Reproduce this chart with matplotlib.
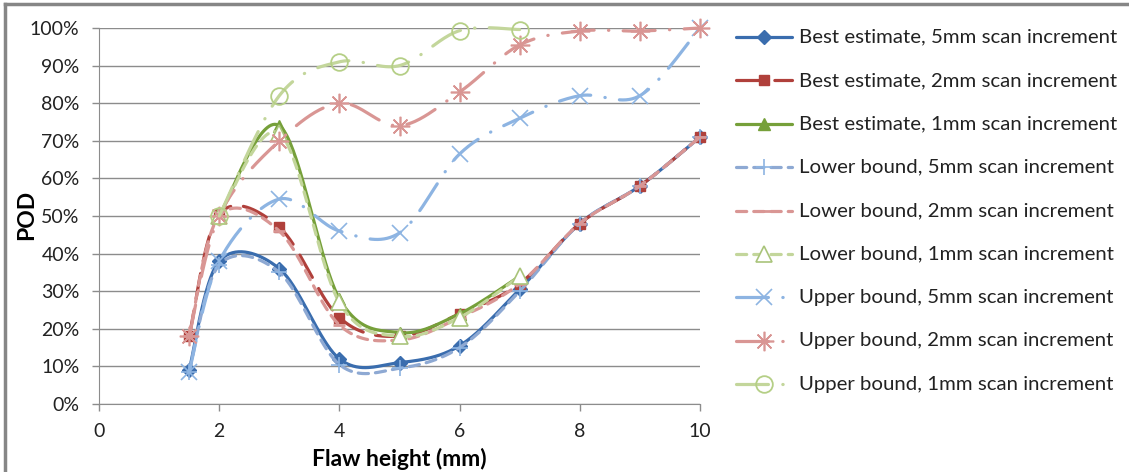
import numpy as np
import matplotlib
matplotlib.use("Agg")
import matplotlib.pyplot as plt
from matplotlib.lines import Line2D
from matplotlib.ticker import PercentFormatter

plt.rcParams['font.family'] = ['Lato', 'DejaVu Sans']

# datos (POD en %)
x_5mm = [1.5, 2, 3, 4, 5, 6, 7, 8, 9, 10]
x_2mm = [1.5, 2, 3, 4, 5, 6, 7, 8, 9, 10]
x_1mm = [2, 3, 4, 5, 6, 7]

best_5mm = [9, 38, 36, 12, 11, 15.5, 30.5, 48, 58, 71]
best_2mm = [18, 50.5, 47, 23, 18, 24, 32, 48, 58, 71]
best_1mm = [50, 74, 28, 19, 24, 34]
lower_5mm = [8.5, 37, 35, 10.5, 9.5, 15, 30, 48, 58, 71]
lower_2mm = [18, 50, 46, 21, 17, 23, 32, 48, 58, 71]
lower_1mm = [50, 72, 27, 18, 23, 34]
upper_5mm = [8.5, 38, 54.5, 46, 45.5, 66.5, 76, 82, 82, 100]
upper_2mm = [18, 50, 70, 80, 74, 83, 95.5, 99.2, 99.2, 100]
upper_1mm = [50, 82, 91, 90, 99.3, 99.6]

labels = ["Best estimate, 5mm scan increment",
          "Best estimate, 2mm scan increment",
          "Best estimate, 1mm scan increment",
          "Lower bound, 5mm scan increment",
          "Lower bound, 2mm scan increment",
          "Lower bound, 1mm scan increment",
          "Upper bound, 5mm scan increment",
          "Upper bound, 2mm scan increment",
          "Upper bound, 1mm scan increment"]

#colores estilo excel
c_blue, c_red, c_green = '#3A6DAE', '#B0403B', '#76A03A'
c_lblue, c_pink, c_lgreen = '#8DB4E2', '#D99694', '#C3D69B'
c_gblue = '#8EA9D3'

dash_long = (0, (8, 4))
dash_short = (0, (3.2, 2.2))
dash_dot = (0, (10, 4.5, 0.1, 4.5))

series = [
    (x_5mm, best_5mm, c_blue, '-', dict(marker='D', ms=7, mfc=c_blue, mec=c_blue)),
    (x_2mm, best_2mm, c_red, dash_long, dict(marker='s', ms=7, mfc=c_red, mec=c_red)),
    (x_1mm, best_1mm, c_green, '-', dict(marker='^', ms=8, mfc=c_green, mec=c_green)),
    (x_5mm, lower_5mm, c_gblue, dash_short, dict(marker='+', ms=11, mew=1.2, mec=c_lblue)),
    (x_2mm, lower_2mm, c_pink, dash_short, dict(marker='_', ms=8, mew=2, mec=c_pink)),
    (x_1mm, lower_1mm, c_lgreen, dash_short, dict(marker='^', ms=11, mfc='white', mec='#A9C47A', mew=1.2)),
    (x_5mm, upper_5mm, c_lblue, dash_dot, dict(marker='x', ms=12, mew=1.2, mec=c_lblue)),
    (x_2mm, upper_2mm, c_pink, dash_dot, dict(marker=(8, 2, 0), ms=14, mew=1.2, mec=c_pink)),
    (x_1mm, upper_1mm, c_lgreen, dash_dot, dict(marker='o', ms=12, mfc='none', mec='#B5CF86', mew=1.3)),
]


def suavizar(xs, ys, n=40):
    # curva suavizada tipo excel (bezier catmull-rom)
    p = np.column_stack([xs, ys]).astype(float)
    p = np.vstack([p[0], p, p[-1]])
    out = []
    t = np.linspace(0, 1, n)[:, None]
    for i in range(1, len(p) - 2):
        p0, p1, p2, p3 = p[i - 1], p[i], p[i + 1], p[i + 2]
        c1 = p1 + (p2 - p0) / 6
        c2 = p2 - (p3 - p1) / 6
        seg = ((1 - t) ** 3) * p1 + 3 * ((1 - t) ** 2) * t * c1 + 3 * (1 - t) * t ** 2 * c2 + t ** 3 * p2
        out.append(seg if i == 1 else seg[1:])
    out = np.vstack(out)
    return out[:, 0], out[:, 1]


fig = plt.figure(figsize=(11.29, 4.72), dpi=100)
ax = fig.add_axes([99 / 1129, 68 / 472, 601 / 1129, 376 / 472])

lw = 2.3
for xs, ys, col, ls, mk in series:
    sx, sy = suavizar(xs, ys)
    ax.plot(sx, sy, color=col, lw=lw, ls=ls, dash_capstyle='round', solid_capstyle='round', clip_on=False)
    ax.plot(xs, ys, ls='none', clip_on=False, **mk)

ax.set_xlim(0, 10)
ax.set_ylim(0, 100)
ax.set_xticks([0, 2, 4, 6, 8, 10])
ax.set_yticks(np.arange(0, 101, 10))
ax.yaxis.set_major_formatter(PercentFormatter(decimals=0))
ax.grid(axis='y', color='#8C8C8C', lw=1)
ax.set_axisbelow(True)
for s in ['top', 'right']:
    ax.spines[s].set_visible(False)
for s in ['left', 'bottom']:
    ax.spines[s].set_color('#8C8C8C')
ax.tick_params(colors='#8C8C8C', length=5, width=1, labelcolor='#222222', labelsize=14)
ax.tick_params(axis='y', pad=9)
ax.tick_params(axis='x', pad=9)
ax.set_xlabel('Flaw height (mm)', fontsize=16.5, fontweight='bold', color='black')
ax.set_ylabel('POD', fontsize=16.5, fontweight='bold', color='black')
ax.xaxis.set_label_coords(0.5, -0.146, transform=ax.transAxes)
ax.yaxis.set_label_coords(-0.12, 0.503, transform=ax.transAxes)
ax.xaxis.label.set_va('center')
ax.yaxis.label.set_va('center')

# leyenda a mano en coordenadas de pixel
lg = fig.add_axes([0, 0, 1, 1])
lg.set_xlim(0, 1129)
lg.set_ylim(472, 0)
lg.axis('off')
lg.patch.set_alpha(0)
ys_leg = 37 + 43.4 * np.arange(9)
for (xs, ys, col, ls, mk), lab, yl in zip(series, labels, ys_leg):
    lg.plot([736, 792], [yl, yl], color=col, lw=lw, ls=ls, dash_capstyle='round', solid_capstyle='round')
    lg.plot([764], [yl], ls='none', **mk)
    lg.text(799, yl, lab, fontsize=14.7, va='center', ha='left', color='#222222')

# marco del grafico
fig.add_artist(Line2D([5, 1129], [468, 468], transform=None, color='#868686', lw=2.5))
fig.add_artist(Line2D([5, 5], [0, 468], transform=None, color='#868686', lw=2.5))

plt.savefig('out.png', dpi=100)
